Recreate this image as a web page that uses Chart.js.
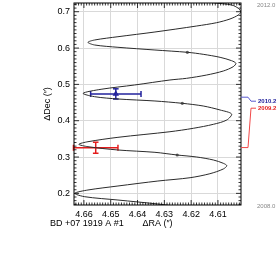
<!DOCTYPE html>
<html>
<head>
<meta charset="utf-8">
<script src="https://cdn.jsdelivr.net/npm/chart.js@4/dist/chart.umd.min.js"></script>
<style>
  html, body { margin: 0; padding: 0; background: #fff; }
  #wrap { width: 277px; height: 270px; }
</style>
</head>
<body>
<div id="wrap"><canvas id="orbitChart" width="277" height="270"></canvas></div>
<script>
// parallax + proper motion track (bottom ~2008.0 up to ~2012.0)
const trackRA = [4.6204, 4.6324, 4.6473, 4.6597, 4.6634, 4.6585, 4.6473, 4.6324, 4.6204, 4.6130,
                 4.6080, 4.6067, 4.6080, 4.6117, 4.6179, 4.6252, 4.6335, 4.6473, 4.6585, 4.6619,
                 4.6585, 4.6473, 4.6279, 4.6192, 4.6117, 4.6067, 4.6049, 4.6092, 4.6155, 4.6233,
                 4.6335, 4.6473, 4.6560, 4.6603, 4.6536, 4.6411, 4.6279, 4.6217, 4.6142, 4.6080,
                 4.6043, 4.6033, 4.6049, 4.6092, 4.6155, 4.6214, 4.6335, 4.6473, 4.6560, 4.6585,
                 4.6560, 4.6473, 4.6335, 4.6179, 4.6105, 4.6055, 4.6024, 4.6015, 4.6024, 4.6049,
                 4.6117, 4.6186];
const trackDec = [0.1597, 0.1707, 0.1817, 0.1908, 0.2002, 0.2093, 0.2203, 0.2340, 0.2431, 0.2541,
                  0.2671, 0.2762, 0.2828, 0.2919, 0.3001, 0.3056, 0.3130, 0.3194, 0.3285, 0.3351,
                  0.3422, 0.3543, 0.3697, 0.3791, 0.3901, 0.4020, 0.4185, 0.4295, 0.4405, 0.4479,
                  0.4543, 0.4598, 0.4661, 0.4754, 0.4865, 0.4983, 0.5121, 0.5167, 0.5258, 0.5368,
                  0.5487, 0.5580, 0.5652, 0.5745, 0.5828, 0.5883, 0.5946, 0.6021, 0.6084, 0.6158,
                  0.6222, 0.6312, 0.6442, 0.6607, 0.6698, 0.6800, 0.6910, 0.7001, 0.7094, 0.7185,
                  0.7248, 0.7323];

// small markers sitting on the track
const markRA = [4.6252, 4.6233, 4.6214];
const markDec = [0.3056, 0.4479, 0.5883];

// measured positions with errors
const obsEpoch = [2009.2, 2010.2];
const obsRA = [4.6556, 4.6481];
const obsDec = [0.3256, 0.4737];
const obsRAErr = [0.0083, 0.0094];
const obsDecErr = [0.0152, 0.0141];
const obsColor = ['#e41c1c', '#22229c'];
const leadColor = ['#f04848', '#5b5bd0'];
const obsMarker = [0, 2.5];

// epoch range written at the right edge
const epochEnds = [2008.0, 2012.0];

const trackPts = trackRA.map((x, i) => ({ x: x, y: trackDec[i] }));
const markPts = markRA.map((x, i) => ({ x: x, y: markDec[i] }));

const FONT = '"Liberation Sans", Arial, sans-serif';

const datasets = [{
    type: 'line',
    data: trackPts,
    borderColor: '#2b2b2b',
    borderWidth: 1,
    pointRadius: 0,
    tension: 0.3,
    clip: 0
}, {
    type: 'scatter',
    data: markPts,
    pointRadius: 1.6,
    backgroundColor: '#666',
    borderWidth: 0
}];

obsRA.forEach((ra, i) => {
    datasets.push({
        type: 'line',
        data: [{ x: ra - obsRAErr[i], y: obsDec[i] }, { x: ra + obsRAErr[i], y: obsDec[i] }],
        borderColor: obsColor[i],
        borderWidth: 1.5,
        pointStyle: 'line',
        rotation: 90,
        pointRadius: 3,
        pointBorderColor: obsColor[i],
        pointBorderWidth: 1.5,
        clip: false
    });
    datasets.push({
        type: 'line',
        data: [{ x: ra, y: obsDec[i] - obsDecErr[i] }, { x: ra, y: obsDec[i] + obsDecErr[i] }],
        borderColor: obsColor[i],
        borderWidth: 1.5,
        pointStyle: 'line',
        pointRadius: 2.8,
        pointBorderColor: obsColor[i],
        pointBorderWidth: 1.5,
        clip: false
    });
    datasets.push({
        type: 'scatter',
        data: [{ x: ra, y: obsDec[i] }],
        pointStyle: 'triangle',
        pointRadius: obsMarker[i],
        backgroundColor: 'rgba(0,0,0,0)',
        borderColor: obsColor[i],
        borderWidth: 1.2
    });
});

// inward major/minor ticks on all four sides
function inTicks(ctx, scale, area, perUnit, majorEvery) {
    const lo = Math.ceil(Math.min(scale.min, scale.max) * perUnit - 1e-6);
    const hi = Math.floor(Math.max(scale.min, scale.max) * perUnit + 1e-6);
    ctx.beginPath();
    for (let k = lo; k <= hi; k++) {
        const len = k % majorEvery === 0 ? 5 : 2.5;
        const p = scale.getPixelForValue(k / perUnit);
        if (scale.isHorizontal()) {
            ctx.moveTo(p, area.bottom); ctx.lineTo(p, area.bottom - len);
            ctx.moveTo(p, area.top); ctx.lineTo(p, area.top + len);
        } else {
            ctx.moveTo(area.left, p); ctx.lineTo(area.left + len, p);
            ctx.moveTo(area.right, p); ctx.lineTo(area.right - len, p);
        }
    }
    ctx.stroke();
}

const framePlugin = {
    id: 'frame',
    afterDraw(chart) {
        const ctx = chart.ctx;
        const area = chart.chartArea;
        ctx.save();
        ctx.strokeStyle = '#000';
        ctx.lineWidth = 0.8;
        inTicks(ctx, chart.scales.x, area, 1000, 10);
        inTicks(ctx, chart.scales.y, area, 100, 10);
        ctx.lineWidth = 1;
        ctx.strokeRect(area.left, area.top, area.right - area.left, area.bottom - area.top);

        // star name under the axis
        ctx.fillStyle = '#000';
        ctx.font = '9px ' + FONT;
        ctx.textBaseline = 'middle';
        ctx.textAlign = 'left';
        ctx.fillText('BD +07 1919 A #1', 50, 224);

        // epoch scale at the right edge
        const t = chart.scales.yt;
        ctx.font = '6px ' + FONT;
        ctx.fillStyle = '#888';
        ctx.textBaseline = 'alphabetic';
        epochEnds.forEach(e => ctx.fillText(e.toFixed(1), area.right + 16, t.getPixelForValue(e)));

        // leader lines to the measured epochs, newest on top
        const order = obsEpoch.map((e, i) => i).sort((a, b) => obsEpoch[b] - obsEpoch[a]);
        let labelY = null;
        order.forEach(i => {
            const py = t.getPixelForValue(obsEpoch[i]);
            labelY = labelY === null ? py + 4 : labelY + 7;
            ctx.strokeStyle = leadColor[i];
            ctx.lineWidth = 1;
            ctx.beginPath();
            ctx.moveTo(area.right, py);
            ctx.lineTo(area.right + 7, py);
            ctx.lineTo(area.right + 10, labelY);
            ctx.lineTo(area.right + 15, labelY);
            ctx.stroke();
            ctx.fillStyle = obsColor[i];
            ctx.font = 'bold 6px ' + FONT;
            ctx.textBaseline = 'middle';
            ctx.fillText(obsEpoch[i].toFixed(1), area.right + 17, labelY);
        });
        ctx.restore();
    }
};

new Chart(document.getElementById('orbitChart'), {
    data: { datasets: datasets },
    options: {
        responsive: false,
        animation: false,
        layout: { autoPadding: false, padding: { top: 3, right: 36, left: 0, bottom: 0 } },
        plugins: { legend: { display: false }, tooltip: { enabled: false } },
        scales: {
            x: {
                type: 'linear',
                reverse: true,
                min: 4.6014,
                max: 4.6637,
                afterFit: s => { s.height = 65; s.paddingLeft = 0; s.paddingRight = 0; },
                ticks: {
                    stepSize: 0.01,
                    includeBounds: false,
                    padding: 4,
                    color: '#000',
                    font: { family: FONT, size: 9 },
                    callback: v => v.toFixed(2)
                },
                grid: { color: '#d9d9d9', lineWidth: 1, drawTicks: false },
                border: { display: false },
                title: {
                    display: true,
                    text: '\u0394RA (\u2033)',
                    color: '#000',
                    font: { family: FONT, size: 9 },
                    padding: { top: 0, bottom: 40.6 }
                }
            },
            y: {
                type: 'linear',
                min: 0.168,
                max: 0.724,
                afterFit: s => { s.width = 74; s.paddingTop = 0; s.paddingBottom = 0; },
                ticks: {
                    stepSize: 0.1,
                    includeBounds: false,
                    padding: 4,
                    color: '#000',
                    font: { family: FONT, size: 9 },
                    callback: v => v.toFixed(1)
                },
                grid: { color: '#d9d9d9', lineWidth: 1, drawTicks: false },
                border: { display: false },
                title: {
                    display: true,
                    text: '\u0394Dec (\u2033)',
                    color: '#000',
                    font: { family: FONT, size: 9 },
                    padding: { top: 42.6, bottom: 0 }
                }
            },
            yt: {
                type: 'linear',
                position: 'right',
                display: false,
                min: 2008.06,
                max: 2012.07,
                ticks: { display: false },
                afterFit: s => { s.width = 0; s.paddingTop = 0; s.paddingBottom = 0; }
            }
        }
    },
    plugins: [framePlugin]
});
</script>
</body>
</html>
